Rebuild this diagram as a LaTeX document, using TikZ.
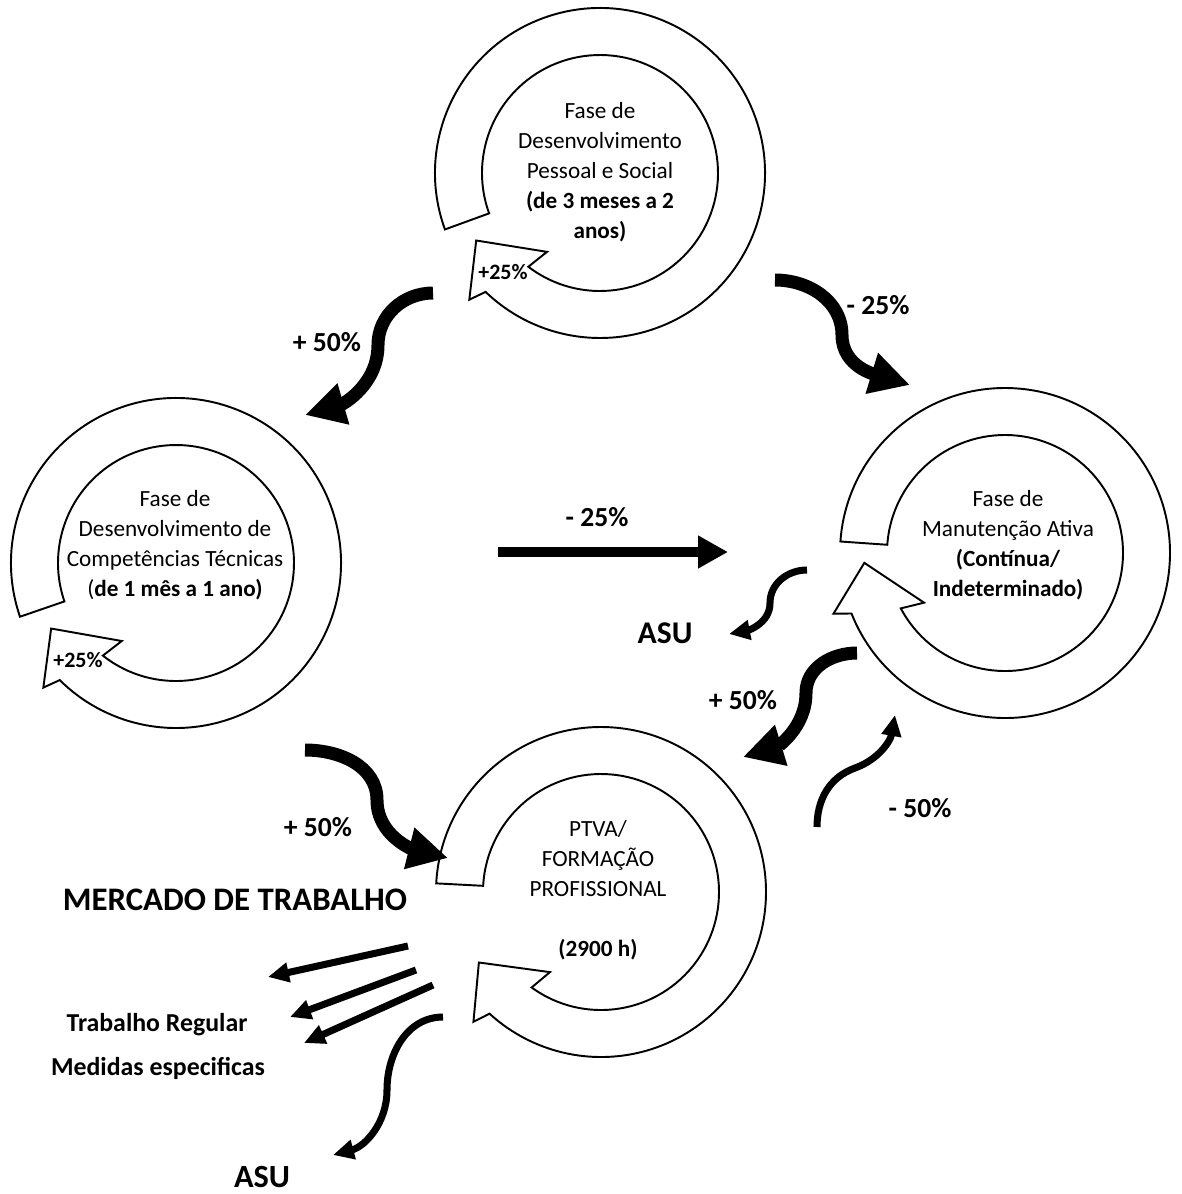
\documentclass[tikz,border=0pt]{standalone}
\usepackage{fontspec}
\setmainfont{Carlito}
\usetikzlibrary{arrows.meta}
\tikzset{
  ring/.style={draw, fill=white, line width=1.1pt, line join=miter},
  phase/.style={align=center, font=\fontsize{13.2}{17}\selectfont},
  pct/.style={font=\fontsize{15.7}{18}\selectfont\bfseries},
  small pct/.style={font=\fontsize{12.5}{14}\selectfont\bfseries},
  bigflow/.style={line width=7.4pt, -{Triangle[length=0.8cm,width=0.8cm]}},
  midflow/.style={line width=6.2pt, -{Triangle[length=0.6cm,width=0.62cm]}},
  thinflow/.style={line width=4pt, -{Triangle[length=0.42cm,width=0.38cm]}}
}
\newcommand{\ringarrow}[3]{%
  \begin{scope}[shift={(#1)}]
    \draw[ring] (#2:165) arc[start angle=#2, end angle=#3-342.5, radius=165]
      -- (#3-344.5:182) -- (#3-360:141) -- (#3-332.5:95)
      -- (#3-336:118) arc[start angle=#3-336, end angle=#2, radius=118] -- cycle;
  \end{scope}}

\begin{document}
\begin{tikzpicture}[x=0.02cm, y=0.02cm]
  \useasboundingbox (0,0) rectangle (1181,-1194);

  \coordinate (tc) at (600,-173);
  \coordinate (lc) at (176,-563);
  \coordinate (rc) at (1005,-553);
  \coordinate (bc) at (601,-892);

  \ringarrow{tc}{200}{208.6}
  \ringarrow{lc}{199}{207.7}
  \ringarrow{rc}{176}{184}
  \ringarrow{bc}{177}{210}

  \node[phase] (pessoal) at (600,-172) {Fase de\\Desenvolvimento\\Pessoal e Social\\\textbf{(de 3 meses a 2}\\\textbf{anos)}};
  \node[phase] (tecnica) at (175,-545) {Fase de\\Desenvolvimento de\\Competências Técnicas\\(\textbf{de 1 mês a 1 ano)}};
  \node[phase] (manut) at (1008,-545) {Fase de\\Manutenção Ativa\\\textbf{(Contínua/}\\\textbf{Indeterminado)}};
  \node[phase] (ptva) at (598,-890) {PTVA/\\FORMAÇÃO\\PROFISSIONAL\\[17pt]\textbf{(2900 h)}};

  \node[small pct] (tplus) at (503,-272) {+25\%};
  \node[small pct] (lplus) at (78,-660) {+25\%};

  \coordinate (s1) at (433,-293);
  \coordinate (m1) at (378,-345);
  \coordinate (e1) at (305,-415);
  \coordinate (s2) at (775,-280);
  \coordinate (m2) at (842,-335);
  \coordinate (e2) at (910,-385);
  \coordinate (s3) at (305,-750);
  \coordinate (m3) at (377,-800);
  \coordinate (e3) at (448,-858);
  \coordinate (s4) at (857,-653);
  \coordinate (m4) at (806,-693);
  \coordinate (e4) at (743,-757);
  \coordinate (s5) at (498,-552);
  \coordinate (e5) at (728,-552);

  \draw[bigflow] (s1) to[out=180,in=90] (m1) to[out=270,in=16] (e1);
  \draw[bigflow] (s2) to[out=0,in=90] (m2) to[out=270,in=163] (e2);
  \draw[bigflow] (s3) to[out=0,in=90] (m3) to[out=270,in=166] (e3);
  \draw[bigflow] (s4) to[out=180,in=90] (m4) to[out=270,in=17] (e4);
  \draw[midflow] (s5) -- (e5);

  \coordinate (s6) at (807,-570);
  \coordinate (m6) at (770,-603);
  \coordinate (e6) at (729,-634);
  \coordinate (s7) at (817,-827);
  \coordinate (m7) at (855,-768);
  \coordinate (e7) at (895,-715);
  \coordinate (s8) at (443,-1017);
  \coordinate (m8) at (387,-1090);
  \coordinate (e8) at (333,-1155);

  \draw[thinflow] (s6) to[out=180,in=90] (m6) to[out=270,in=11] (e6);
  \draw[thinflow] (s7) to[out=90,in=200] (m7) to[out=20,in=260] (e7);
  \draw[thinflow] (s8) to[out=180,in=90] (m8) to[out=270,in=15] (e8);

  \coordinate (w1) at (408,-946);
  \coordinate (w2) at (416,-970);
  \coordinate (w3) at (433,-985);
  \coordinate (v1) at (268,-977);
  \coordinate (v2) at (290,-1017);
  \coordinate (v3) at (304,-1043);
  \draw[thinflow] (w1) -- (v1);
  \draw[thinflow] (w2) -- (v2);
  \draw[thinflow] (w3) -- (v3);

  \node[pct] (p1) at (327,-342) {+ 50\%};
  \node[pct] (p2) at (878,-305) {- 25\%};
  \node[pct] (p3) at (597,-517) {- 25\%};
  \node[pct] (p4) at (318,-827) {+ 50\%};
  \node[pct] (p5) at (743,-700) {+ 50\%};
  \node[pct] (p6) at (920,-808) {- 50\%};
  \node[font=\fontsize{18}{20}\selectfont\bfseries] (asu1) at (665,-633) {ASU};
  \node[font=\fontsize{18.7}{22}\selectfont\bfseries] (mercado) at (235,-900) {MERCADO DE TRABALHO};
  \node[font=\fontsize{14.7}{16}\selectfont\bfseries] (regular) at (157,-1025) {Trabalho Regular};
  \node[font=\fontsize{14.7}{16}\selectfont\bfseries] (medidas) at (158,-1068) {Medidas especificas};
  \node[font=\fontsize{18.4}{20}\selectfont\bfseries] (asu2) at (262,-1177) {ASU};
\end{tikzpicture}
\end{document}
